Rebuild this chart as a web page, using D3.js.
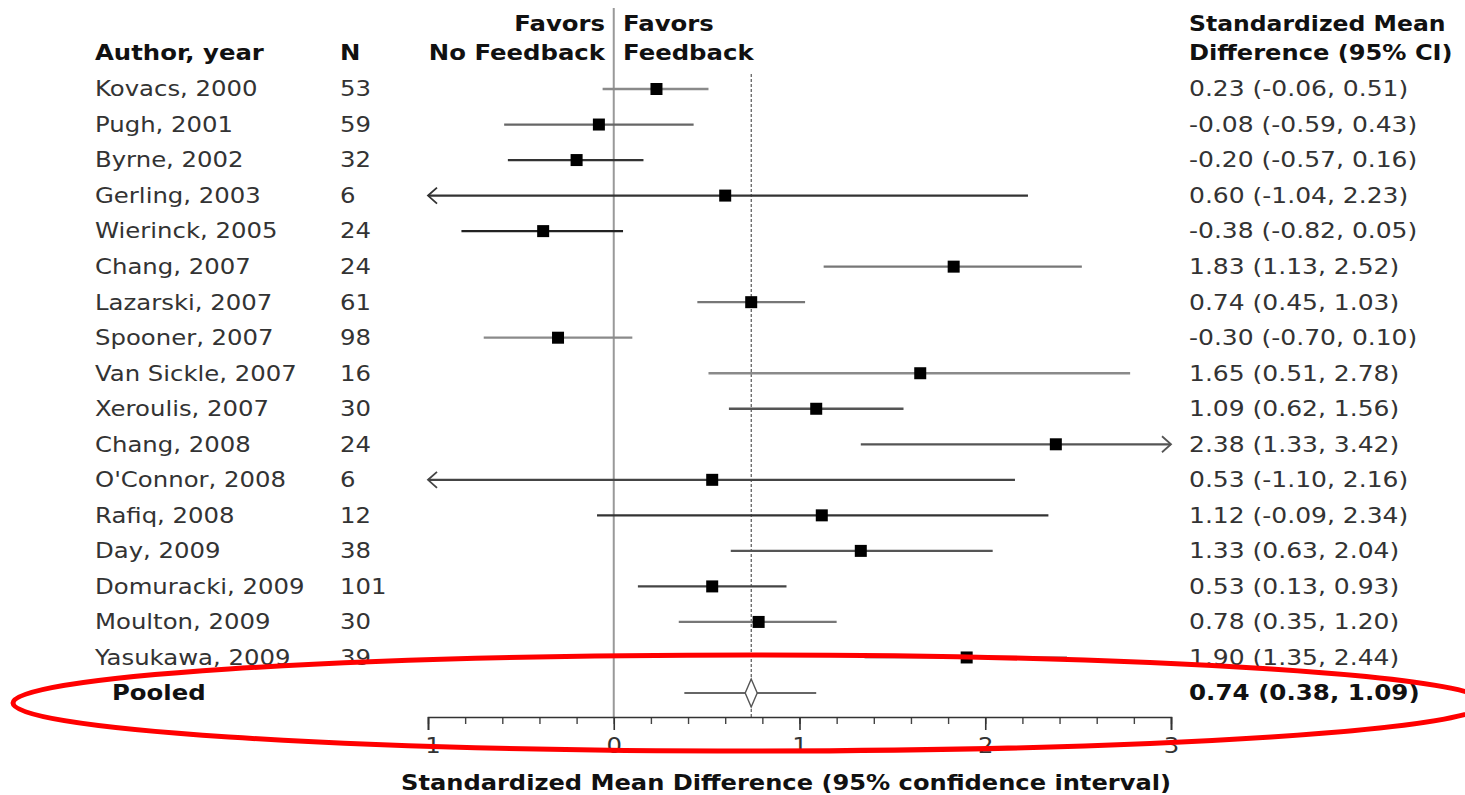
<!DOCTYPE html>
<html>
<head>
<meta charset="utf-8">
<script src="https://cdn.jsdelivr.net/npm/d3@7"></script>
<style>
body { margin: 0; background: #fff; }
text { font-family: "DejaVu Sans", Verdana, sans-serif; }
</style>
</head>
<body>
<script>
// study data
var authors = ["Kovacs, 2000", "Pugh, 2001", "Byrne, 2002", "Gerling, 2003", "Wierinck, 2005",
  "Chang, 2007", "Lazarski, 2007", "Spooner, 2007", "Van Sickle, 2007", "Xeroulis, 2007",
  "Chang, 2008", "O'Connor, 2008", "Rafiq, 2008", "Day, 2009", "Domuracki, 2009",
  "Moulton, 2009", "Yasukawa, 2009"];
var nValues = [53, 59, 32, 6, 24, 24, 61, 98, 16, 30, 24, 6, 12, 38, 101, 30, 39];
var smd   = [0.23, -0.08, -0.20, 0.60, -0.38, 1.83, 0.74, -0.30, 1.65, 1.09, 2.38, 0.53, 1.12, 1.33, 0.53, 0.78, 1.90];
var lower = [-0.06, -0.59, -0.57, -1.04, -0.82, 1.13, 0.45, -0.70, 0.51, 0.62, 1.33, -1.10, -0.09, 0.63, 0.13, 0.35, 1.35];
var upper = [0.51, 0.43, 0.16, 2.23, 0.05, 2.52, 1.03, 0.10, 2.78, 1.56, 3.42, 2.16, 2.34, 2.04, 0.93, 1.20, 2.44];
var pooledLabel = "Pooled";
var pooled = [0.74, 0.38, 1.09]; // estimate, lower, upper
var xTicks = [-1, 0, 1, 2, 3];
var xDomain = [-1, 3];

var width = 1465;
var height = 795;
var fs = 21;      // font size
var sx = 1.16;    // the original is stretched sideways a bit
var rightX = 1189;

// line shades of the CI whiskers (vary in the original)
var shade = ["#8a8a8a", "#666", "#333", "#333", "#222", "#777", "#777", "#8a8a8a", "#8a8a8a", "#555",
  "#555", "#444", "#333", "#555", "#444", "#777", "#999"];

var loc = d3.formatLocale({decimal: ".", thousands: ",", grouping: [3], currency: ["", ""], minus: "-"});
var f2 = loc.format(".2f");

var svg = d3.select("body").append("svg")
  .attr("width", width)
  .attr("height", height);

var x = d3.scaleLinear()
  .domain(xDomain)
  .range([428, 1171]);

var rows = authors.concat([pooledLabel]);
var y = d3.scalePoint()
  .domain(rows)
  .range([89, 693]);

function label(g, str, px, py, opt) {
  opt = opt || {};
  return g.append("text")
    .attr("transform", "translate(" + px + "," + py + ") scale(" + (opt.sx || sx) + ",1)")
    .attr("dy", "0.35em")
    .style("font-size", fs + "px")
    .style("font-weight", opt.bold ? "bold" : "normal")
    .style("fill", opt.bold ? "#111" : "#333")
    .style("text-anchor", opt.anchor || "start")
    .text(str);
}

// headers
label(svg, "Author, year", 95, 53, {bold: true});
label(svg, "N", 340, 53, {bold: true});
label(svg, "Favors", 605, 24, {bold: true, anchor: "end"});
label(svg, "No Feedback", 605, 53, {bold: true, anchor: "end"});
label(svg, "Favors", 623, 24, {bold: true});
label(svg, "Feedback", 623, 53, {bold: true});
label(svg, "Standardized Mean", rightX, 24, {bold: true, sx: 1.12});
label(svg, "Difference (95% CI)", rightX, 53, {bold: true, sx: 1.15});

// reference lines
svg.append("line")
  .attr("x1", x(0)).attr("x2", x(0))
  .attr("y1", 8).attr("y2", 717)
  .style("stroke", "#999")
  .style("stroke-width", 2);

svg.append("line")
  .attr("x1", x(pooled[0])).attr("x2", x(pooled[0]))
  .attr("y1", 74).attr("y2", 717)
  .style("stroke", "#333")
  .style("stroke-width", 1)
  .style("stroke-dasharray", "3,2");

// study rows
var idx = d3.range(authors.length);
var row = svg.selectAll("g.row")
  .data(idx)
  .enter().append("g")
  .attr("class", "row");

row.each(function(i) {
  var g = d3.select(this);
  var cy = y(authors[i]);
  label(g, authors[i], 95, cy);
  label(g, nValues[i], 340, cy);
  label(g, f2(smd[i]) + " (" + f2(lower[i]) + ", " + f2(upper[i]) + ")", rightX, cy, {sx: 1.19});

  var lo = Math.max(lower[i], xDomain[0]);
  var hi = Math.min(upper[i], xDomain[1]);
  g.append("line")
    .attr("x1", x(lo)).attr("x2", x(hi))
    .attr("y1", cy).attr("y2", cy)
    .style("stroke", shade[i])
    .style("stroke-width", 2.3);

  // open arrow heads where the CI runs off the axis
  if (lower[i] < xDomain[0]) {
    g.append("path")
      .attr("d", "M" + (x(lo) + 9) + "," + (cy - 8) + "L" + x(lo) + "," + cy + "L" + (x(lo) + 9) + "," + (cy + 8))
      .style("fill", "none").style("stroke", shade[i]).style("stroke-width", 1.8);
  }
  if (upper[i] > xDomain[1]) {
    g.append("path")
      .attr("d", "M" + (x(hi) - 9) + "," + (cy - 8) + "L" + x(hi) + "," + cy + "L" + (x(hi) - 9) + "," + (cy + 8))
      .style("fill", "none").style("stroke", shade[i]).style("stroke-width", 1.8);
  }

  g.append("rect")
    .attr("x", x(smd[i]) - 6)
    .attr("y", cy - 6)
    .attr("width", 12)
    .attr("height", 12)
    .style("fill", "#000");
});

// pooled row
var py = y(pooledLabel);
label(svg, pooledLabel, 112, py, {bold: true});
label(svg, f2(pooled[0]) + " (" + f2(pooled[1]) + ", " + f2(pooled[2]) + ")", rightX, py, {bold: true, sx: 1.17});

svg.append("line")
  .attr("x1", x(pooled[1])).attr("x2", x(pooled[2]))
  .attr("y1", py).attr("y2", py)
  .style("stroke", "#666")
  .style("stroke-width", 1.8);

var px = x(pooled[0]);
svg.append("path")
  .attr("d", "M" + px + "," + (py - 14) + "L" + (px + 6) + "," + py + "L" + px + "," + (py + 14) + "L" + (px - 6) + "," + py + "Z")
  .style("fill", "#fff")
  .style("stroke", "#555")
  .style("stroke-width", 1.4);

// x axis: minor ticks then major ticks with labels
var minor = svg.append("g")
  .attr("transform", "translate(0,717)")
  .call(d3.axisBottom(x).tickValues(x.ticks(20)).tickSize(7).tickFormat(""));
minor.select(".domain").remove();
minor.selectAll("line").style("stroke", "#444").style("stroke-width", 1.4);

var xAxis = d3.axisBottom(x)
  .tickValues(xTicks)
  .tickSize(13)
  .tickSizeOuter(13)
  .tickPadding(8)
  .tickFormat(loc.format("d"));

var ax = svg.append("g")
  .attr("transform", "translate(0,717)")
  .call(xAxis);
ax.select(".domain").style("stroke", "#333").style("stroke-width", 1.6);
ax.selectAll(".tick line").style("stroke", "#333").style("stroke-width", 1.6);
ax.selectAll(".tick text")
  .attr("transform", "scale(" + sx + ",1)")
  .style("font-family", "'DejaVu Sans', Verdana, sans-serif")
  .style("font-size", fs + "px")
  .style("fill", "#333");

label(svg, "Standardized Mean Difference (95% confidence interval)", 786, 783, {bold: true, anchor: "middle", sx: 1.15});

// red annotation ring around the pooled estimate
svg.append("ellipse")
  .attr("cx", 750)
  .attr("cy", 703)
  .attr("rx", 737)
  .attr("ry", 48)
  .style("fill", "none")
  .style("stroke", "#f00")
  .style("stroke-width", 5);
</script>
</body>
</html>
